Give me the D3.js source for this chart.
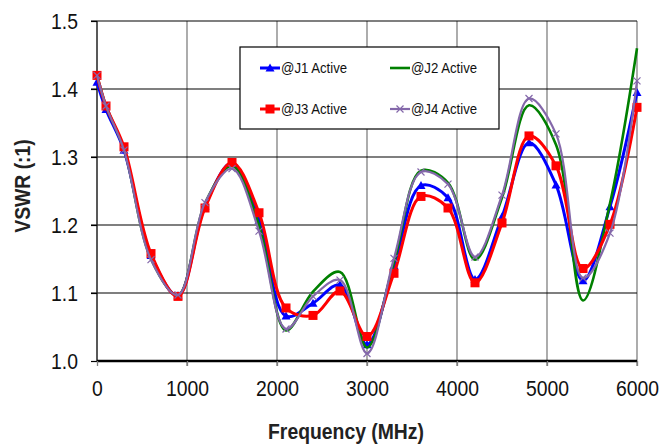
<!DOCTYPE html>
<html>
<head>
<meta charset="utf-8">
<script src="https://cdn.jsdelivr.net/npm/d3@7"></script>
<style>
  body { margin: 0; background: #fff; }
  svg { font-family: "Liberation Sans", Arial, sans-serif; }
</style>
</head>
<body>
<svg width="663" height="444"></svg>
<script>
var freq = [0, 100, 300, 600, 900, 1200, 1500, 1800, 2100, 2400, 2700, 3000, 3300, 3600, 3900, 4200, 4500, 4800, 5100, 5400, 5700, 6000];
var j1 = [1.41, 1.37, 1.31, 1.155, 1.096, 1.228, 1.291, 1.207, 1.066, 1.085, 1.112, 1.024, 1.14, 1.258, 1.24, 1.12, 1.212, 1.321, 1.259, 1.118, 1.227, 1.395];
var j2 = [1.42, 1.375, 1.312, 1.15, 1.097, 1.232, 1.287, 1.2, 1.045, 1.102, 1.131, 1.02, 1.145, 1.28, 1.262, 1.149, 1.24, 1.376, 1.318, 1.089, 1.232, 1.46];
var j3 = [1.42, 1.375, 1.315, 1.158, 1.095, 1.225, 1.292, 1.218, 1.078, 1.067, 1.103, 1.036, 1.129, 1.242, 1.225, 1.115, 1.203, 1.331, 1.287, 1.136, 1.201, 1.373];
var j4 = [1.42, 1.375, 1.31, 1.149, 1.097, 1.233, 1.283, 1.191, 1.047, 1.095, 1.119, 1.011, 1.151, 1.278, 1.26, 1.153, 1.244, 1.386, 1.334, 1.122, 1.188, 1.412];
var seriesNames = ["@J1 Active", "@J2 Active", "@J3 Active", "@J4 Active"];
var xTicks = [0, 1000, 2000, 3000, 4000, 5000, 6000];
var yTicks = [1.0, 1.1, 1.2, 1.3, 1.4, 1.5];

var series = [
  { name: seriesNames[0], values: j1, color: "#0000ff", width: 3, marker: "triangle" },
  { name: seriesNames[1], values: j2, color: "#008000", width: 2.6, marker: "none" },
  { name: seriesNames[2], values: j3, color: "#ff0000", width: 3, marker: "square" },
  { name: seriesNames[3], values: j4, color: "#8468aa", width: 2.2, marker: "cross" }
];

var svg = d3.select("svg");
var sx = 0.88; // text in the reference is slightly narrow

var x = d3.scaleLinear().domain([0, 6000]).range([97, 637]);
var y = d3.scaleLinear().domain([1.0, 1.5]).range([361, 21]);

// vertical grid (gray)
svg.append("g")
  .selectAll("line")
  .data(xTicks.slice(1))
  .enter()
  .append("line")
  .attr("x1", function (d) { return x(d); })
  .attr("x2", function (d) { return x(d); })
  .attr("y1", y(1.5))
  .attr("y2", y(1.0) + 5)
  .attr("stroke", "#808080")
  .attr("stroke-width", 1.3);

// horizontal grid (black)
svg.append("g")
  .selectAll("line")
  .data(yTicks.slice(1))
  .enter()
  .append("line")
  .attr("x1", x(0) - 6)
  .attr("x2", x(6000))
  .attr("y1", function (d) { return y(d); })
  .attr("y2", function (d) { return y(d); })
  .attr("stroke", "#000")
  .attr("stroke-width", 1.2);

// y axis
var yAxis = svg.append("g")
  .attr("transform", "translate(" + x(0) + ",0)")
  .call(d3.axisLeft(y).tickValues(yTicks).tickFormat(d3.format(".1f")).tickSize(6).tickPadding(12));
yAxis.select(".domain").attr("stroke", "#222").attr("stroke-width", 1.5).attr("d", "M0," + y(1.0) + "V" + y(1.5));
yAxis.selectAll(".tick line").attr("stroke", "#000").attr("stroke-width", 1.2);
yAxis.selectAll(".tick text")
  .attr("font-size", 22)
  .attr("fill", "#111")
  .attr("x", -19 / sx)
  .attr("dy", "0.36em")
  .attr("transform", "scale(" + sx + ",1)");

// x axis
var xAxis = svg.append("g")
  .attr("transform", "translate(0," + y(1.0) + ")")
  .call(d3.axisBottom(x).tickValues(xTicks).tickFormat(d3.format("d")).tickSize(5).tickPadding(14));
xAxis.select(".domain").attr("stroke", "#000").attr("stroke-width", 2.5).attr("d", "M" + x(0) + ",0H" + x(6000));
xAxis.selectAll(".tick line").attr("stroke", "#808080").attr("stroke-width", 1.3);
xAxis.selectAll(".tick text")
  .attr("font-size", 22)
  .attr("fill", "#111")
  .attr("transform", "scale(" + sx + ",1)");

// lines
var line = d3.line()
  .x(function (d) { return x(d[0]); })
  .y(function (d) { return y(d[1]); })
  .curve(d3.curveCatmullRom.alpha(0.5));

function drawMarker(g, s, cx, cy) {
  if (s.marker === "triangle") {
    g.append("path")
      .attr("d", "M" + cx + "," + (cy - 4.5) + "L" + (cx + 4.5) + "," + (cy + 3.5) + "L" + (cx - 4.5) + "," + (cy + 3.5) + "Z")
      .attr("fill", s.color);
  } else if (s.marker === "square") {
    g.append("rect")
      .attr("x", cx - 4.5).attr("y", cy - 4.5)
      .attr("width", 9).attr("height", 9)
      .attr("fill", s.color);
  } else if (s.marker === "cross") {
    g.append("path")
      .attr("d", "M" + (cx - 3.5) + "," + (cy - 3.5) + "L" + (cx + 3.5) + "," + (cy + 3.5) +
                 "M" + (cx + 3.5) + "," + (cy - 3.5) + "L" + (cx - 3.5) + "," + (cy + 3.5))
      .attr("stroke", s.color)
      .attr("stroke-width", 1.2)
      .attr("fill", "none");
  }
}

series.forEach(function (s) {
  var pts = freq.map(function (f, i) { return [f, s.values[i]]; });
  var g = svg.append("g");
  g.append("path")
    .attr("d", line(pts))
    .attr("fill", "none")
    .attr("stroke", s.color)
    .attr("stroke-width", s.width);
  pts.forEach(function (p) { drawMarker(g, s, x(p[0]), y(p[1])); });
});

// legend
var legend = svg.append("g");
legend.append("rect")
  .attr("x", 240).attr("y", 47)
  .attr("width", 259).attr("height", 82)
  .attr("fill", "#fff")
  .attr("stroke", "#000")
  .attr("stroke-width", 1.2);

var legendPos = [[260, 68], [390, 68], [260, 109], [390, 109]];
series.forEach(function (s, i) {
  var lx = legendPos[i][0], ly = legendPos[i][1];
  legend.append("line")
    .attr("x1", lx).attr("x2", lx + 20)
    .attr("y1", ly).attr("y2", ly)
    .attr("stroke", s.color)
    .attr("stroke-width", s.width);
  drawMarker(legend, s, lx + 10, ly);
  legend.append("text")
    .attr("x", (lx + 21) / sx)
    .attr("y", ly + 5)
    .attr("transform", "scale(" + sx + ",1)")
    .attr("font-size", 15)
    .attr("fill", "#111")
    .text(s.name);
});

// axis titles
svg.append("text")
  .attr("x", 346 / sx)
  .attr("y", 439)
  .attr("transform", "scale(" + sx + ",1)")
  .attr("text-anchor", "middle")
  .attr("font-size", 22)
  .attr("font-weight", "bold")
  .attr("fill", "#222")
  .text("Frequency (MHz)");

svg.append("text")
  .attr("transform", "translate(30,186) rotate(-90) scale(" + sx + ",1)")
  .attr("text-anchor", "middle")
  .attr("font-size", 22)
  .attr("font-weight", "bold")
  .attr("fill", "#222")
  .text("VSWR (:1)");
</script>
</body>
</html>
